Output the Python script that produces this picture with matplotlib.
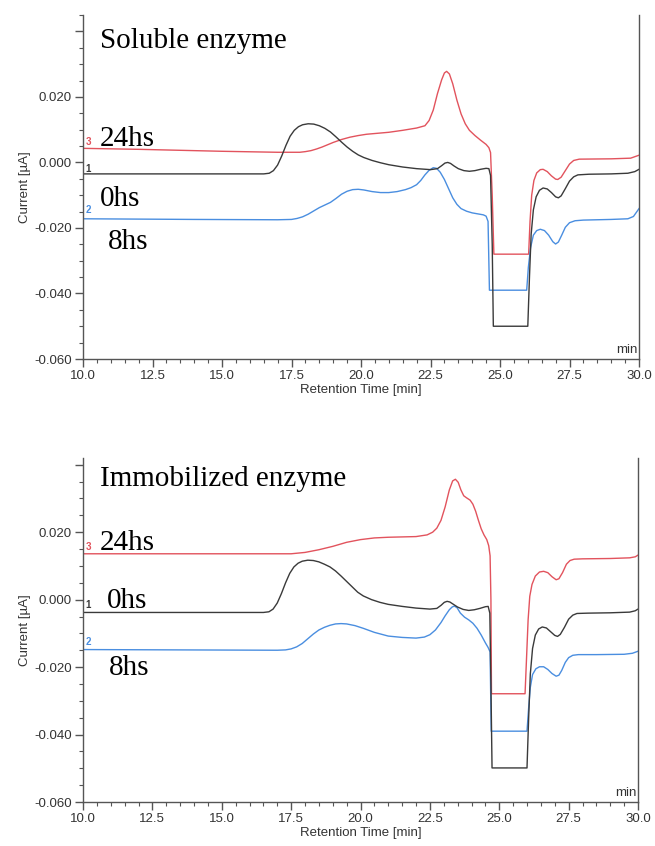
import matplotlib
matplotlib.use("Agg")
import matplotlib.pyplot as plt
from matplotlib.ticker import MultipleLocator, FixedLocator, FuncFormatter

plt.rcParams['axes.unicode_minus'] = False

# ---- Soluble enzyme (top panel) ----
sol_t_0h = [10.0, 16.5, 16.7, 16.85, 17.0, 17.15, 17.3, 17.45, 17.6, 17.75, 17.9, 18.1, 18.3,
            18.5, 18.7, 18.9, 19.1, 19.3, 19.5, 19.7, 19.9, 20.1, 20.4, 20.7, 21.0, 21.5, 22.0,
            22.5, 22.75, 22.9, 23.02, 23.12, 23.22, 23.35, 23.5, 23.7, 23.9, 24.1, 24.3, 24.5,
            24.6, 24.66, 24.72, 24.76, 26.0, 26.06, 26.12, 26.2, 26.3, 26.42, 26.55, 26.7,
            26.85, 27.0, 27.1, 27.2, 27.35, 27.5, 27.65, 27.8, 28.2, 29.0, 29.6, 29.85, 30.0]
sol_v_0h = [-0.0035, -0.0035, -0.0033, -0.0025, -0.0008, 0.0020, 0.0052, 0.0080, 0.0098, 0.0109,
            0.0115, 0.0118, 0.0117, 0.0112, 0.0104, 0.0093, 0.0078, 0.0062, 0.0047, 0.0034,
            0.0023, 0.0015, 0.0006, -0.0001, -0.0007, -0.0014, -0.0019, -0.0022, -0.0019,
            -0.0010, -0.0002, 0.0000, -0.0003, -0.0011, -0.0019, -0.0025, -0.0027, -0.0025,
            -0.0021, -0.0018, -0.0019, -0.0040, -0.0250, -0.0500, -0.0500, -0.0350, -0.0220,
            -0.0145, -0.0105, -0.0085, -0.0078, -0.0081, -0.0092, -0.0105, -0.0108, -0.0102,
            -0.0080, -0.0057, -0.0044, -0.0038, -0.0036, -0.0035, -0.0033, -0.0028, -0.0021]

sol_t_8h = [10.0, 14.0, 17.0, 17.5, 17.7, 17.9, 18.1, 18.3, 18.5, 18.7, 18.9, 19.1, 19.3, 19.5,
            19.7, 19.9, 20.1, 20.4, 20.7, 21.0, 21.3, 21.6, 21.8, 22.0, 22.15, 22.3, 22.45, 22.6,
            22.72, 22.85, 23.0, 23.15, 23.3, 23.45, 23.6, 23.8, 24.0, 24.2, 24.4, 24.5, 24.57,
            24.62, 25.96, 26.02, 26.1, 26.2, 26.32, 26.45, 26.6, 26.75, 26.9, 27.0, 27.1, 27.22,
            27.35, 27.5, 27.7, 28.0, 29.0, 29.6, 29.8, 30.0]
sol_v_8h = [-0.0172, -0.0174, -0.0175, -0.0174, -0.0171, -0.0166, -0.0158, -0.0148, -0.0138,
            -0.0130, -0.0122, -0.0110, -0.0097, -0.0088, -0.0083, -0.0082, -0.0084, -0.0089,
            -0.0092, -0.0092, -0.0089, -0.0083, -0.0077, -0.0068, -0.0055, -0.0038, -0.0024,
            -0.0016, -0.0018, -0.0030, -0.0052, -0.0080, -0.0108, -0.0128, -0.0141, -0.0149,
            -0.0154, -0.0157, -0.0160, -0.0164, -0.0180, -0.0390, -0.0390, -0.0320, -0.0260,
            -0.0222, -0.0208, -0.0204, -0.0208, -0.0222, -0.0242, -0.0249, -0.0243, -0.0222,
            -0.0198, -0.0184, -0.0178, -0.0176, -0.0174, -0.0172, -0.0165, -0.0141]

sol_t_24h = [10.0, 12.0, 15.0, 17.0, 17.8, 18.0, 18.2, 18.4, 18.6, 18.8, 19.0, 19.3, 19.6, 19.9,
             20.2, 20.6, 21.0, 21.5, 22.0, 22.3, 22.45, 22.6, 22.75, 22.9, 23.0, 23.08, 23.18,
             23.3, 23.45, 23.6, 23.75, 23.9, 24.1, 24.3, 24.5, 24.6, 24.66, 24.72, 24.78, 26.03,
             26.08, 26.14, 26.22, 26.32, 26.45, 26.55, 26.7, 26.85, 27.0, 27.08, 27.2, 27.35,
             27.5, 27.65, 27.85, 29.0, 29.7, 30.0]
sol_v_24h = [0.0043, 0.0040, 0.0034, 0.0031, 0.0031, 0.0033, 0.0036, 0.0041, 0.0047, 0.0054,
             0.0061, 0.0070, 0.0077, 0.0082, 0.0086, 0.0089, 0.0092, 0.0098, 0.0105, 0.0112,
             0.0128, 0.0160, 0.0210, 0.0252, 0.0273, 0.0278, 0.0270, 0.0240, 0.0190, 0.0148,
             0.0118, 0.0098, 0.0082, 0.0068, 0.0055, 0.0045, 0.0030, -0.0100, -0.0280, -0.0280,
             -0.0180, -0.0100, -0.0055, -0.0032, -0.0022, -0.0021, -0.0028, -0.0041, -0.0051,
             -0.0052, -0.0045, -0.0025, -0.0005, 0.0006, 0.0010, 0.0011, 0.0013, 0.0022]

# ---- Immobilized enzyme (bottom panel) ----
imm_t_0h = [10.0, 16.5, 16.7, 16.85, 17.0, 17.15, 17.3, 17.45, 17.6, 17.75, 17.9, 18.1, 18.3,
            18.5, 18.7, 18.9, 19.1, 19.3, 19.5, 19.7, 19.9, 20.1, 20.4, 20.7, 21.0, 21.5, 22.0,
            22.5, 22.75, 22.9, 23.02, 23.12, 23.22, 23.35, 23.5, 23.7, 23.9, 24.1, 24.3, 24.5,
            24.6, 24.66, 24.7, 24.74, 26.0, 26.06, 26.12, 26.2, 26.3, 26.42, 26.55, 26.7, 26.85,
            27.0, 27.1, 27.2, 27.35, 27.5, 27.65, 27.8, 28.2, 29.0, 29.7, 29.9, 30.0]
imm_v_0h = [-0.0038, -0.0038, -0.0036, -0.0028, -0.0010, 0.0018, 0.0050, 0.0078, 0.0097, 0.0108,
            0.0114, 0.0117, 0.0116, 0.0112, 0.0105, 0.0097, 0.0085, 0.0070, 0.0054, 0.0038,
            0.0022, 0.0011, 0.0000, -0.0008, -0.0014, -0.0020, -0.0025, -0.0028, -0.0026,
            -0.0017, -0.0008, -0.0005, -0.0007, -0.0014, -0.0022, -0.0029, -0.0032, -0.0030,
            -0.0026, -0.0021, -0.0020, -0.0040, -0.0250, -0.0499, -0.0499, -0.0350, -0.0220,
            -0.0145, -0.0105, -0.0087, -0.0081, -0.0084, -0.0095, -0.0106, -0.0109, -0.0103,
            -0.0082, -0.0058, -0.0046, -0.0041, -0.0040, -0.0039, -0.0037, -0.0033, -0.0028]

imm_t_8h = [10.0, 17.0, 17.3, 17.5, 17.7, 17.9, 18.1, 18.3, 18.5, 18.7, 18.9, 19.1, 19.3, 19.5,
            19.8, 20.1, 20.5, 21.0, 21.5, 22.0, 22.3, 22.5, 22.7, 22.9, 23.05, 23.2, 23.3, 23.38,
            23.48, 23.6, 23.75, 23.9, 24.05, 24.2, 24.35, 24.5, 24.6, 24.67, 24.71, 26.0, 26.06,
            26.12, 26.2, 26.32, 26.45, 26.6, 26.75, 26.9, 27.05, 27.15, 27.25, 27.38, 27.5,
            27.65, 27.85, 28.5, 29.5, 29.8, 30.0]
imm_v_8h = [-0.0148, -0.0150, -0.0149, -0.0146, -0.0140, -0.0130, -0.0116, -0.0102, -0.0090,
            -0.0082, -0.0076, -0.0072, -0.0071, -0.0072, -0.0077, -0.0085, -0.0097, -0.0108,
            -0.0112, -0.0114, -0.0111, -0.0104, -0.0090, -0.0068, -0.0048, -0.0030, -0.0022,
            -0.0019, -0.0024, -0.0040, -0.0052, -0.0060, -0.0070, -0.0085, -0.0105, -0.0128,
            -0.0142, -0.0155, -0.0390, -0.0390, -0.0320, -0.0260, -0.0222, -0.0205, -0.0199,
            -0.0199, -0.0207, -0.0219, -0.0227, -0.0224, -0.0210, -0.0186, -0.0172, -0.0165,
            -0.0163, -0.0163, -0.0162, -0.0159, -0.0153]

imm_t_24h = [10.0, 17.5, 18.0, 18.5, 19.0, 19.5, 20.0, 20.5, 21.0, 22.0, 22.4, 22.6, 22.75, 22.9,
             23.05, 23.2, 23.32, 23.42, 23.52, 23.62, 23.72, 23.82, 23.95, 24.05, 24.15, 24.25,
             24.35, 24.45, 24.55, 24.62, 24.67, 24.7, 24.72, 25.93, 25.98, 26.04, 26.1, 26.18,
             26.3, 26.45, 26.6, 26.75, 26.9, 27.05, 27.15, 27.28, 27.42, 27.55, 27.7, 28.0, 29.0,
             29.7, 29.9, 30.0]
imm_v_24h = [0.0136, 0.0136, 0.0140, 0.0148, 0.0158, 0.0170, 0.0178, 0.0183, 0.0185, 0.0187,
             0.0192, 0.0200, 0.0212, 0.0235, 0.0275, 0.0325, 0.0352, 0.0357, 0.0348, 0.0325,
             0.0308, 0.0302, 0.0295, 0.0283, 0.0262, 0.0235, 0.0210, 0.0192, 0.0178, 0.0160,
             0.0130, 0.0000, -0.0279, -0.0279, -0.0180, -0.0060, 0.0010, 0.0045, 0.0070, 0.0082,
             0.0084, 0.0080, 0.0068, 0.0059, 0.0062, 0.0080, 0.0105, 0.0116, 0.0120, 0.0121,
             0.0122, 0.0124, 0.0127, 0.0132]

c_red = '#e2535d'
c_blue = '#4a8ee0'
c_black = '#3a3a3a'
axis_col = '#555555'
text_col = '#333333'


def draw_panel(ax, title, series, ymax, labels, markers, title_y):
    for t, v, col in series:
        ax.plot(t, v, color=col, lw=1.0)
    ax.set_xlim(10, 30)
    ax.set_ylim(-0.060, ymax)

    ax.xaxis.set_major_locator(MultipleLocator(2.5))
    ax.xaxis.set_minor_locator(MultipleLocator(0.5))
    ax.yaxis.set_major_locator(FixedLocator([-0.06, -0.04, -0.02, 0.0, 0.02, 0.04]))
    ax.yaxis.set_minor_locator(MultipleLocator(0.005))
    ax.xaxis.set_major_formatter(FuncFormatter(lambda x, p: f'{x:.1f}'))
    ax.yaxis.set_major_formatter(FuncFormatter(lambda y, p: '' if y > 0.03 else f'{y:.3f}'))

    ax.spines['top'].set_visible(False)
    for s in ['left', 'bottom', 'right']:
        ax.spines[s].set_color(axis_col)
        ax.spines[s].set_linewidth(1.0)
    ax.tick_params(which='major', length=6, width=1.0, color=axis_col, labelsize=9.5,
                   labelcolor=text_col, pad=2)
    ax.tick_params(which='minor', length=3, width=0.8, color=axis_col)
    for lab in ax.get_xticklabels() + ax.get_yticklabels():
        lab.set_family('Liberation Sans')

    ax.set_xlabel('Retention Time [min]', fontsize=9.5, color=text_col,
                  family='Liberation Sans', labelpad=1)
    ax.set_ylabel('Current [µA]', fontsize=9.5, color=text_col,
                  family='Liberation Sans', labelpad=2)
    ax.text(0.998, 0.008, 'min', transform=ax.transAxes, ha='right', va='bottom',
            fontsize=9.5, color=text_col, family='Liberation Sans')

    ax.text(10.6, title_y, title, family='Liberation Serif', fontsize=21, va='baseline')
    for x, y, s in labels:
        ax.text(x, y, s, family='Liberation Serif', fontsize=21, va='baseline')
    for y, s, col in markers:
        ax.text(10.08, y, s, color=col, fontsize=7, fontweight='bold',
                family='Liberation Sans', va='center')


fig = plt.figure(figsize=(6.55, 8.46), dpi=100)
ax1 = fig.add_axes([83 / 655, 1 - 359 / 846, 556 / 655, 344 / 846])
ax2 = fig.add_axes([83 / 655, 1 - 802 / 846, 555 / 655, 344 / 846])

draw_panel(ax1, 'Soluble enzyme',
           [(sol_t_24h, sol_v_24h, c_red), (sol_t_8h, sol_v_8h, c_blue), (sol_t_0h, sol_v_0h, c_black)],
           0.045,
           [(10.6, 0.0050, '24hs'), (10.6, -0.0133, '0hs'), (10.9, -0.0265, '8hs')],
           [(0.0062, '3', c_red), (-0.0020, '1', c_black), (-0.0146, '2', c_blue)],
           0.0349)
draw_panel(ax2, 'Immobilized enzyme',
           [(imm_t_24h, imm_v_24h, c_red), (imm_t_8h, imm_v_8h, c_blue), (imm_t_0h, imm_v_0h, c_black)],
           0.042,
           [(10.6, 0.0146, '24hs'), (10.85, -0.0025, '0hs'), (10.95, -0.0222, '8hs')],
           [(0.0157, '3', c_red), (-0.0015, '1', c_black), (-0.0127, '2', c_blue)],
           0.0336)

fig.savefig('out.png', dpi=100)
